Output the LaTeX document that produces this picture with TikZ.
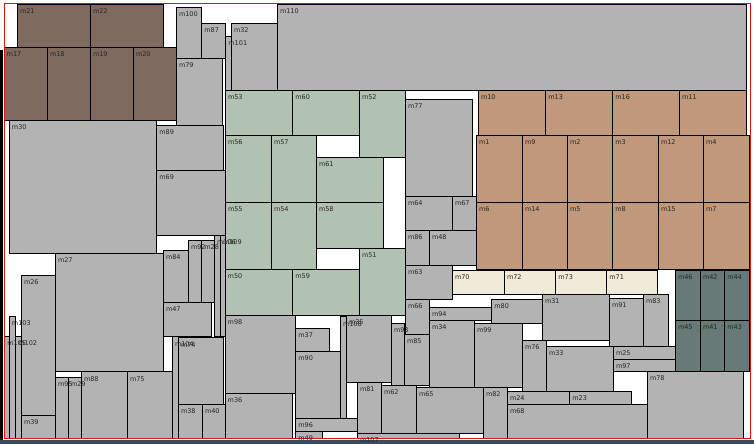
\documentclass[tikz,border=0pt]{standalone}
\usepackage{fontspec}
\usepackage{tikz}
\newfontfamily\lblfont{DejaVu Sans}
\definecolor{ModGray}{RGB}{179,179,179}
\definecolor{ModBrown}{RGB}{127,106,96}
\definecolor{ModTan}{RGB}{192,152,124}
\definecolor{ModSage}{RGB}{177,193,178}
\definecolor{ModCream}{RGB}{242,234,216}
\definecolor{ModSlate}{RGB}{103,122,118}
\definecolor{FrameRed}{RGB}{220,20,20}
\definecolor{ScreenBand}{RGB}{58,76,96}
\tikzset{
	mod/.style={draw=black,line width=0.9pt},
	lbl/.style={anchor=base west,inner sep=0pt,text=black!85,
		font=\lblfont\fontsize{6.5}{7}\selectfont},
	frame/.style={draw=FrameRed,line width=1pt},
}
% name/x1/y1/x2/y2/colour, pixel units from the top left
\def\modlist{%
	m21/17.3/4/90.3/47.3/ModBrown, m22/90.3/4/163.3/47.3/ModBrown,
	m17/4/47.3/47.3/120/ModBrown, m18/47.3/47.3/90.3/120/ModBrown,
	m19/90.3/47.3/133.3/120/ModBrown, m20/133.3/47.3/176.3/120/ModBrown,
	m100/176.3/7.3/201.7/58.3/ModGray, m87/201.7/23.3/225.7/58.3/ModGray,
	m101/225.7/36/231.3/90/ModGray, m32/231.3/23.3/278.7/90/ModGray,
	m110/277.3/4/746/90/ModGray, m79/176.3/58.3/222.3/125/ModGray,
	m30/9.3/120/156.3/253.3/ModGray, m89/156.7/125.3/223.3/170.3/ModGray,
	m69/156.7/170.3/225.7/235.3/ModGray, m27/55.3/253.3/163.3/371.7/ModGray,
	m84/163.3/250.3/188.3/302.3/ModGray, m92/188.3/240.3/201.7/302.3/ModGray,
	m28/201.7/240.3/214.3/302.3/ModGray, m106/214.3/235.3/220.3/336.7/ModGray,
	m109/220.3/235.3/225.7/336.7/ModGray, m47/163.3/302.3/211.7/336/ModGray,
	m26/21.3/275.3/55.3/415.3/ModGray, m39/21.3/415.3/55.3/438/ModGray,
	m103/9.3/316/15.7/438/ModGray, m105/4.7/336/9.3/438/ModGray,
	m102/15.7/336/21.3/438/ModGray, m95/55.3/377.3/68.3/438/ModGray,
	m29/68.3/377.3/81.3/438/ModGray, m88/81.3/371.7/127.3/438/ModGray,
	m75/127.3/371.7/172.3/438/ModGray, m104/172.3/336.7/178.3/438/ModGray,
	m74/178.3/337.7/223.3/404.3/ModGray, m38/178.3/404.3/202.3/438/ModGray,
	m40/202.3/404.3/225.7/438/ModGray, m98/225/315.3/295.7/393.3/ModGray,
	m36/225/393.3/292.7/438/ModGray, m37/295.7/328.3/329.3/351/ModGray,
	m90/295.7/351/340.3/418.3/ModGray, m96/295.7/418.3/357.3/431.3/ModGray,
	m49/295.7/431.3/322.3/438/ModGray, m107/357.3/433.3/459.3/438/ModGray,
	m108/340.3/316.7/346.3/418.3/ModGray, m35/346.3/315.3/391.3/382.3/ModGray,
	m81/357.3/382.3/381.3/433.3/ModGray, m62/381.3/385.3/416.3/433.3/ModGray,
	m65/416.3/387/483.3/433.3/ModGray, m93/391.3/323.3/404.3/385.3/ModGray,
	m66/405.3/299.3/429.3/334/ModGray, m85/404.3/334/429.3/385.3/ModGray,
	m63/405.3/265.3/452.3/299.3/ModGray, m94/429.3/307.3/491.7/320.3/ModGray,
	m80/491.7/299.3/542.3/323.3/ModGray, m34/429.3/320.3/474.3/387/ModGray,
	m99/474.3/323.3/522.3/387/ModGray, m31/542.3/294.3/609.3/340.3/ModGray,
	m91/609.3/298.3/643.3/346.3/ModGray, m83/643.3/294.3/668.7/346.3/ModGray,
	m76/522.3/340.3/546.3/391.3/ModGray, m33/546.3/346.3/613.3/391.3/ModGray,
	m25/613.3/346.3/675.3/359.3/ModGray, m97/613.3/359.3/675.3/371.3/ModGray,
	m78/647.3/371.3/743.3/438/ModGray, m82/483.3/387.3/507.3/438/ModGray,
	m24/507.3/391.3/569.7/404.3/ModGray, m23/569.7/391.3/631.7/404.3/ModGray,
	m68/507.3/404.3/647.3/438/ModGray, m77/405.3/99.3/472.3/196.3/ModGray,
	m64/405.3/196.3/452.3/230.3/ModGray, m67/452.3/196.3/476.3/230.3/ModGray,
	m86/405.3/230.3/429.3/265.3/ModGray, m48/429.3/230.3/476.3/265.3/ModGray,
	m70/452.3/270/504.3/294.3/ModCream, m72/504.3/270/555.7/294.3/ModCream,
	m73/555.7/270/606.7/294.3/ModCream, m71/606.7/270/657.3/294.3/ModCream,
	m46/675.3/270/700.3/320.3/ModSlate, m42/700.3/270/724.7/320.3/ModSlate,
	m44/724.7/270/749/320.3/ModSlate, m45/675.3/320.3/700.3/371/ModSlate,
	m41/700.3/320.3/724.7/371/ModSlate, m43/724.7/320.3/749/371/ModSlate,
	m10/478.3/90.3/545.7/135.3/ModTan, m13/545.7/90.3/612.7/135.3/ModTan,
	m16/612.7/90.3/679.3/135.3/ModTan, m11/679.3/90.3/746.3/135.3/ModTan,
	m1/476.3/135.3/522.3/202.3/ModTan, m9/522.3/135.3/567.3/202.3/ModTan,
	m2/567.3/135.3/612.7/202.3/ModTan, m3/612.7/135.3/658.3/202.3/ModTan,
	m12/658.3/135.3/703.3/202.3/ModTan, m4/703.3/135.3/749/202.3/ModTan,
	m6/476.3/202.3/522.3/269/ModTan, m14/522.3/202.3/567.3/269/ModTan,
	m5/567.3/202.3/612.7/269/ModTan, m8/612.7/202.3/658.3/269/ModTan,
	m15/658.3/202.3/703.3/269/ModTan, m7/703.3/202.3/749/269/ModTan,
	m53/225.3/90.3/292.7/135.3/ModSage, m60/292.7/90.3/359.3/135.3/ModSage,
	m52/359.3/90.3/405.3/157/ModSage, m56/225.3/135.3/271.3/202.3/ModSage,
	m57/271.3/135.3/316.3/202.3/ModSage, m61/316.3/157/383.3/202.3/ModSage,
	m55/225.3/202.3/271.3/269/ModSage, m54/271.3/202.3/316.3/269/ModSage,
	m58/316.3/202.3/383.3/248.3/ModSage, m51/359.3/248.3/405.3/315.3/ModSage,
	m50/225/269.3/292.7/315.3/ModSage, m59/292.7/269.3/359.3/315.3/ModSage}

\begin{document}
\begin{tikzpicture}[x=1pt,y=-1pt]
	\useasboundingbox (0,0) rectangle (754,444);
	\fill[black] (0,50) rectangle (3,440);
	\fill[ScreenBand] (0,440) rectangle (754,444);
	\foreach \n/\xa/\ya/\xb/\yb/\c in \modlist
	\draw[mod,fill=\c] (\xa,\ya) rectangle (\xb,\yb);
	\draw[frame] (4,4) rectangle (750,438.5);
	\foreach \n/\xa/\ya/\xb/\yb/\c in \modlist
	\node[lbl] (\n) at (\xa+2.5,\ya+9.3) {\n};
\end{tikzpicture}
\end{document}
